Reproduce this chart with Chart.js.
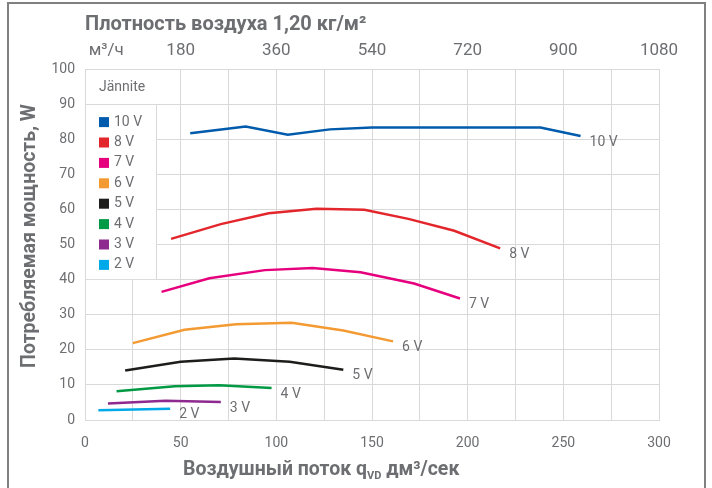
<!DOCTYPE html>
<html>
<head>
<meta charset="utf-8">
<script src="https://cdn.jsdelivr.net/npm/chart.js@4"></script>
<style>
  html, body { margin: 0; padding: 0; background: #fff; overflow: hidden; }
</style>
</head>
<body>
<canvas id="fanChart" width="712" height="488"></canvas>
<script>
// series: airflow dm3/s -> power W
const seriesLabels = ['10 V', '8 V', '7 V', '6 V', '5 V', '4 V', '3 V', '2 V'];
const seriesColors = ['#005bac', '#e3262c', '#e6007e', '#f39a33', '#1d1d1b', '#009a44', '#8e2a8f', '#00a9e7'];

const flow10V = [55, 84, 106, 128, 150, 238, 259];
const power10V = [81.7, 83.6, 81.3, 82.8, 83.3, 83.3, 80.9];
const flow8V = [45, 71, 96, 121, 146, 169, 193, 217];
const power8V = [51.6, 55.8, 58.9, 60.2, 59.9, 57.3, 53.9, 48.9];
const flow7V = [40, 65, 94, 119, 144, 172, 196];
const power7V = [36.5, 40.4, 42.7, 43.3, 42.1, 38.9, 34.6];
const flow6V = [25, 52, 79, 108, 135, 161];
const power6V = [21.9, 25.7, 27.3, 27.7, 25.5, 22.4];
const flow5V = [21, 50, 78, 107, 135];
const power5V = [14.1, 16.6, 17.5, 16.6, 14.3];
const flow4V = [16.5, 47, 70, 97.5];
const power4V = [8.2, 9.6, 9.9, 9.1];
const flow3V = [12, 42, 71];
const power3V = [4.7, 5.5, 5.1];
const flow2V = [7, 44.5];
const power2V = [2.8, 3.2];

const flowTicks = [0, 50, 100, 150, 200, 250, 300];
const powerTicks = [0, 10, 20, 30, 40, 50, 60, 70, 80, 90, 100];
const m3hTickValues = [40, 180, 360, 540, 720, 900, 1080];
const m3hTickLabels = ['м³/ч', '180', '360', '540', '720', '900', '1080'];

const allFlows = [flow10V, flow8V, flow7V, flow6V, flow5V, flow4V, flow3V, flow2V];
const allPowers = [power10V, power8V, power7V, power6V, power5V, power4V, power3V, power2V];

const TEXT_GREY = '#6d6e71';
const GRID_GREY = '#d9d9d9';
const FONT = 'Roboto, "Noto Sans", sans-serif';

const datasets = seriesLabels.map((label, i) => ({
    label: label,
    data: allFlows[i].map((x, j) => ({ x: x, y: allPowers[i][j] })),
    borderColor: seriesColors[i],
    backgroundColor: seriesColors[i],
    borderWidth: 2.5,
    pointRadius: 0,
    tension: 0
}));

// white page + grey frame
const framePlugin = {
    id: 'frame',
    beforeDraw(chart) {
        const ctx = chart.ctx;
        ctx.save();
        ctx.fillStyle = '#fff';
        ctx.fillRect(0, 0, chart.width, chart.height);
        ctx.restore();
    },
    afterDraw(chart) {
        const ctx = chart.ctx;
        ctx.save();
        ctx.strokeStyle = '#808080';
        ctx.lineWidth = 2;
        ctx.strokeRect(8, 3, 697, 520);
        ctx.restore();
    }
};

// legend box in the top-left corner of the plot
const legendBoxPlugin = {
    id: 'legendBox',
    beforeDatasetsDraw(chart) {
        const ctx = chart.ctx;
        const area = chart.chartArea;
        const y = chart.scales.y;
        const right = area.left + 71;
        const rowTop = y.getPixelForValue(90);
        const bottom = y.getPixelForValue(40);
        ctx.save();
        ctx.fillStyle = '#fff';
        ctx.fillRect(area.left + 1, area.top + 1, right - area.left - 0.5, bottom - area.top - 1.5);
        ctx.strokeStyle = GRID_GREY;
        ctx.lineWidth = 1;
        ctx.beginPath();
        ctx.moveTo(area.left, Math.round(rowTop) + 0.5);
        ctx.lineTo(right + 0.5, Math.round(rowTop) + 0.5);
        ctx.moveTo(right + 0.5, rowTop);
        ctx.lineTo(right + 0.5, bottom);
        ctx.stroke();

        ctx.fillStyle = TEXT_GREY;
        ctx.font = '14px ' + FONT;
        ctx.textBaseline = 'middle';
        ctx.textAlign = 'left';
        ctx.fillText('Jännite', area.left + 14, area.top + 18);
        chart.data.datasets.forEach((ds, i) => {
            const cy = rowTop + 18 + i * 20.4;
            ctx.fillStyle = ds.borderColor;
            ctx.fillRect(area.left + 14, cy - 5, 10, 10);
            ctx.fillStyle = TEXT_GREY;
            ctx.fillText(ds.label, area.left + 29, cy);
        });
        ctx.restore();
    }
};

// voltage label at the end of every curve
const endLabelPlugin = {
    id: 'endLabels',
    afterDatasetsDraw(chart) {
        const ctx = chart.ctx;
        ctx.save();
        ctx.font = '14px ' + FONT;
        ctx.fillStyle = TEXT_GREY;
        ctx.textBaseline = 'middle';
        ctx.textAlign = 'left';
        chart.data.datasets.forEach((ds, i) => {
            const pts = chart.getDatasetMeta(i).data;
            const last = pts[pts.length - 1];
            ctx.fillText(ds.label, last.x + 9, last.y + 6);
        });
        ctx.restore();
    }
};

// axis titles (bottom one has a subscript)
const titlesPlugin = {
    id: 'titles',
    afterDraw(chart) {
        const ctx = chart.ctx;
        ctx.save();
        ctx.fillStyle = TEXT_GREY;
        ctx.textBaseline = 'alphabetic';
        ctx.textAlign = 'left';

        const big = 'bold 19.5px ' + FONT;
        const small = 'bold 11px ' + FONT;
        let x = 183;
        const base = 475;
        ctx.font = big;
        ctx.fillText('Воздушный поток q', x, base);
        x += ctx.measureText('Воздушный поток q').width;
        ctx.font = small;
        ctx.fillText('VD', x, base + 4);
        x += ctx.measureText('VD').width;
        ctx.font = big;
        ctx.fillText(' дм³/сек', x, base);

        ctx.translate(30, 236);
        ctx.rotate(-Math.PI / 2);
        ctx.textAlign = 'center';
        ctx.textBaseline = 'middle';
        ctx.font = 'bold 19.5px ' + FONT;
        ctx.fillText('Потребляемая мощность, W', 0, 0);
        ctx.restore();
    }
};

const tickFont = { family: FONT, size: 14 };

new Chart(document.getElementById('fanChart'), {
    type: 'line',
    data: { datasets: datasets },
    plugins: [framePlugin, legendBoxPlugin, endLabelPlugin, titlesPlugin],
    options: {
        responsive: false,
        animation: false,
        layout: { padding: { left: 0, right: 53, top: 0, bottom: 0 } },
        plugins: {
            legend: { display: false },
            tooltip: { enabled: false }
        },
        scales: {
            x: {
                type: 'linear',
                position: 'bottom',
                min: 0,
                max: 300,
                ticks: {
                    stepSize: 25,
                    autoSkip: false,
                    maxRotation: 0,
                    padding: 15,
                    color: TEXT_GREY,
                    font: tickFont,
                    callback: v => flowTicks.includes(v) ? String(v) : ''
                },
                grid: { color: GRID_GREY, drawTicks: false },
                border: { color: GRID_GREY },
                afterFit: s => { s.height = 68; }
            },
            y: {
                min: 0,
                max: 100,
                afterBuildTicks: s => { s.ticks = powerTicks.map(v => ({ value: v })); },
                ticks: {
                    padding: 10,
                    color: TEXT_GREY,
                    font: tickFont
                },
                grid: { color: GRID_GREY, drawTicks: false },
                border: { color: GRID_GREY },
                afterFit: s => { s.width = 85; }
            },
            x2: {
                type: 'linear',
                position: 'top',
                min: 0,
                max: 1080,
                afterBuildTicks: s => { s.ticks = m3hTickValues.map(v => ({ value: v })); },
                ticks: {
                    autoSkip: false,
                    maxRotation: 0,
                    padding: 8,
                    color: TEXT_GREY,
                    font: { family: FONT, size: 17 },
                    callback: (v, i) => m3hTickLabels[i]
                },
                grid: { display: false, drawTicks: false },
                border: { display: false },
                title: {
                    display: true,
                    text: 'Плотность воздуха 1,20 кг/м²',
                    align: 'start',
                    color: TEXT_GREY,
                    font: { family: FONT, size: 20, weight: 'bold' },
                    padding: { top: 13, bottom: 0 }
                },
                afterFit: s => { s.height = 69; }
            }
        }
    }
});
</script>
</body>
</html>
